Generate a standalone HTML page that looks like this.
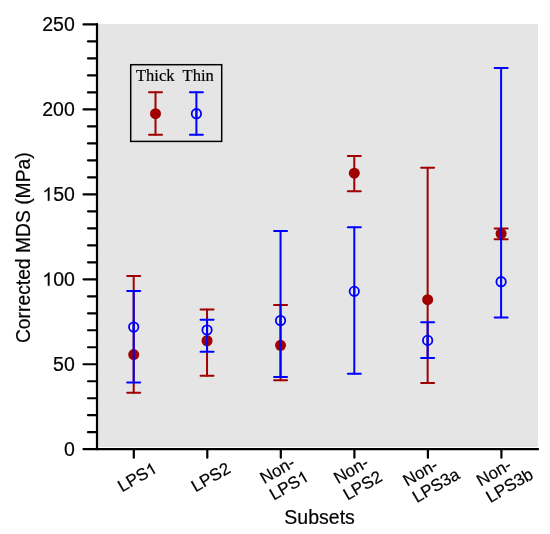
<!DOCTYPE html>
<html><head><meta charset="utf-8"><style>
html,body{margin:0;padding:0;background:#fff;}
svg{display:block;will-change:transform;}
.ax{stroke:#000;stroke-width:2.2;stroke-linecap:round;}
.eb{stroke-width:2;stroke-linecap:round;}
text{font-family:"Liberation Sans",sans-serif;fill:#000;stroke:#000;stroke-width:0.2px;}
.tl{font-size:19.5px;}
.tt{font-size:19.5px;}
.xl{font-size:17px;}
.h{fill-opacity:0;stroke-opacity:0;}
.one{fill:#000;stroke:#000;stroke-width:0.2px;vector-effect:non-scaling-stroke;}
.lg{font-family:"Liberation Serif",serif;font-size:16.5px;}
</style></head><body>
<svg width="550" height="534" viewBox="0 0 550 534">
<rect x="98" y="24" width="440" height="423" fill="#e5e5e5"/>
<line x1="83.5" y1="449.20" x2="97" y2="449.20" class="ax"/>
<line x1="88" y1="432.21" x2="97" y2="432.21" class="ax"/>
<line x1="88" y1="415.22" x2="97" y2="415.22" class="ax"/>
<line x1="88" y1="398.23" x2="97" y2="398.23" class="ax"/>
<line x1="88" y1="381.24" x2="97" y2="381.24" class="ax"/>
<line x1="83.5" y1="364.25" x2="97" y2="364.25" class="ax"/>
<line x1="88" y1="347.26" x2="97" y2="347.26" class="ax"/>
<line x1="88" y1="330.27" x2="97" y2="330.27" class="ax"/>
<line x1="88" y1="313.28" x2="97" y2="313.28" class="ax"/>
<line x1="88" y1="296.29" x2="97" y2="296.29" class="ax"/>
<line x1="83.5" y1="279.30" x2="97" y2="279.30" class="ax"/>
<line x1="88" y1="262.31" x2="97" y2="262.31" class="ax"/>
<line x1="88" y1="245.32" x2="97" y2="245.32" class="ax"/>
<line x1="88" y1="228.33" x2="97" y2="228.33" class="ax"/>
<line x1="88" y1="211.34" x2="97" y2="211.34" class="ax"/>
<line x1="83.5" y1="194.35" x2="97" y2="194.35" class="ax"/>
<line x1="88" y1="177.36" x2="97" y2="177.36" class="ax"/>
<line x1="88" y1="160.37" x2="97" y2="160.37" class="ax"/>
<line x1="88" y1="143.38" x2="97" y2="143.38" class="ax"/>
<line x1="88" y1="126.39" x2="97" y2="126.39" class="ax"/>
<line x1="83.5" y1="109.40" x2="97" y2="109.40" class="ax"/>
<line x1="88" y1="92.41" x2="97" y2="92.41" class="ax"/>
<line x1="88" y1="75.42" x2="97" y2="75.42" class="ax"/>
<line x1="88" y1="58.43" x2="97" y2="58.43" class="ax"/>
<line x1="88" y1="41.44" x2="97" y2="41.44" class="ax"/>
<line x1="83.5" y1="24.45" x2="97" y2="24.45" class="ax"/>
<text x="63.96" y="455.70" class="tl">0</text>
<text x="53.11" y="370.75" class="tl">50</text>
<text x="42.27" y="285.80" class="tl"><tspan class="h">1</tspan>00</text>
<path transform="translate(42.27,285.80) scale(0.00952,-0.00952)" d="M763,0 L583,0 L583,1102 Q518,1042 412,982 Q307,921 223,893 L223,1060 Q374,1130 488,1230 Q602,1330 650,1409 L763,1409 Z" class="one"/>
<text x="42.27" y="200.85" class="tl"><tspan class="h">1</tspan>50</text>
<path transform="translate(42.27,200.85) scale(0.00952,-0.00952)" d="M763,0 L583,0 L583,1102 Q518,1042 412,982 Q307,921 223,893 L223,1060 Q374,1130 488,1230 Q602,1330 650,1409 L763,1409 Z" class="one"/>
<text x="42.27" y="115.90" class="tl">200</text>
<text x="42.27" y="30.95" class="tl">250</text>
<line x1="97" y1="24" x2="97" y2="449.2" class="ax"/>
<line x1="97" y1="449.2" x2="538" y2="449.2" class="ax"/>
<line x1="133.8" y1="449.2" x2="133.8" y2="457.7" class="ax"/>
<line x1="207.3" y1="449.2" x2="207.3" y2="457.7" class="ax"/>
<line x1="280.8" y1="449.2" x2="280.8" y2="457.7" class="ax"/>
<line x1="354.4" y1="449.2" x2="354.4" y2="457.7" class="ax"/>
<line x1="427.9" y1="449.2" x2="427.9" y2="457.7" class="ax"/>
<line x1="501.4" y1="449.2" x2="501.4" y2="457.7" class="ax"/>
<g transform="translate(137.10,477.10) rotate(-30)"><text class="xl"><tspan x="-20.79" y="5.89">LPS<tspan class="h">1</tspan></tspan></text><path transform="translate(11.34,5.89) scale(0.00830,-0.00830)" d="M763,0 L583,0 L583,1102 Q518,1042 412,982 Q307,921 223,893 L223,1060 Q374,1130 488,1230 Q602,1330 650,1409 L763,1409 Z" class="one"/></g>
<g transform="translate(210.60,477.10) rotate(-30)"><text class="xl"><tspan x="-20.79" y="5.89">LPS2</tspan></text></g>
<g transform="translate(284.10,477.10) rotate(-30)"><text class="xl"><tspan x="-20.79" y="-3.61">Non-</tspan><tspan x="-20.79" y="15.39">LPS<tspan class="h">1</tspan></tspan></text><path transform="translate(11.34,15.39) scale(0.00830,-0.00830)" d="M763,0 L583,0 L583,1102 Q518,1042 412,982 Q307,921 223,893 L223,1060 Q374,1130 488,1230 Q602,1330 650,1409 L763,1409 Z" class="one"/></g>
<g transform="translate(357.70,477.10) rotate(-30)"><text class="xl"><tspan x="-20.79" y="-3.61">Non-</tspan><tspan x="-20.79" y="15.39">LPS2</tspan></text></g>
<g transform="translate(431.20,477.10) rotate(-30)"><text class="xl"><tspan x="-25.52" y="-3.61">Non-</tspan><tspan x="-25.52" y="15.39">LPS3a</tspan></text></g>
<g transform="translate(504.70,477.10) rotate(-30)"><text class="xl"><tspan x="-25.52" y="-3.61">Non-</tspan><tspan x="-25.52" y="15.39">LPS3b</tspan></text></g>
<text transform="translate(30.3,247.7) rotate(-90)" text-anchor="middle" class="tt" style="font-size:19.3px">Corrected MDS (MPa)</text>
<text x="319.6" y="524" text-anchor="middle" class="tt">Subsets</text>
<line x1="133.7" y1="276.1" x2="133.7" y2="392.7" stroke="#a00000" class="eb"/>
<line x1="127.19999999999999" y1="276.1" x2="140.2" y2="276.1" stroke="#a00000" class="eb"/>
<line x1="127.19999999999999" y1="392.7" x2="140.2" y2="392.7" stroke="#a00000" class="eb"/>
<circle cx="133.7" cy="354.6" r="5.5" fill="#a00000"/>
<line x1="207.05" y1="309.5" x2="207.05" y2="375.8" stroke="#a00000" class="eb"/>
<line x1="200.55" y1="309.5" x2="213.55" y2="309.5" stroke="#a00000" class="eb"/>
<line x1="200.55" y1="375.8" x2="213.55" y2="375.8" stroke="#a00000" class="eb"/>
<circle cx="207.05" cy="340.75" r="5.5" fill="#a00000"/>
<line x1="280.55" y1="305.1" x2="280.55" y2="380.2" stroke="#a00000" class="eb"/>
<line x1="274.05" y1="305.1" x2="287.05" y2="305.1" stroke="#a00000" class="eb"/>
<line x1="274.05" y1="380.2" x2="287.05" y2="380.2" stroke="#a00000" class="eb"/>
<circle cx="280.55" cy="345.35" r="5.5" fill="#a00000"/>
<line x1="354.3" y1="155.9" x2="354.3" y2="191.25" stroke="#a00000" class="eb"/>
<line x1="347.8" y1="155.9" x2="360.8" y2="155.9" stroke="#a00000" class="eb"/>
<line x1="347.8" y1="191.25" x2="360.8" y2="191.25" stroke="#a00000" class="eb"/>
<circle cx="354.3" cy="173.2" r="5.5" fill="#a00000"/>
<line x1="427.65" y1="167.7" x2="427.65" y2="383.0" stroke="#a00000" class="eb"/>
<line x1="421.15" y1="167.7" x2="434.15" y2="167.7" stroke="#a00000" class="eb"/>
<line x1="421.15" y1="383.0" x2="434.15" y2="383.0" stroke="#a00000" class="eb"/>
<circle cx="427.65" cy="299.7" r="5.5" fill="#a00000"/>
<line x1="501.1" y1="228.4" x2="501.1" y2="239.2" stroke="#a00000" class="eb"/>
<line x1="494.6" y1="228.4" x2="507.6" y2="228.4" stroke="#a00000" class="eb"/>
<line x1="494.6" y1="239.2" x2="507.6" y2="239.2" stroke="#a00000" class="eb"/>
<circle cx="501.1" cy="233.6" r="5.5" fill="#a00000"/>
<line x1="133.7" y1="291.1" x2="133.7" y2="382.4" stroke="#0000ff" class="eb"/>
<line x1="127.19999999999999" y1="291.1" x2="140.2" y2="291.1" stroke="#0000ff" class="eb"/>
<line x1="127.19999999999999" y1="382.4" x2="140.2" y2="382.4" stroke="#0000ff" class="eb"/>
<circle cx="133.7" cy="327.0" r="4.7" fill="none" stroke="#0000ff" stroke-width="1.8"/>
<line x1="133.7" y1="322.0" x2="133.7" y2="332.0" stroke="#0000ff" class="eb"/>
<line x1="207.05" y1="319.7" x2="207.05" y2="351.7" stroke="#0000ff" class="eb"/>
<line x1="200.55" y1="319.7" x2="213.55" y2="319.7" stroke="#0000ff" class="eb"/>
<line x1="200.55" y1="351.7" x2="213.55" y2="351.7" stroke="#0000ff" class="eb"/>
<circle cx="207.05" cy="330.05" r="4.7" fill="none" stroke="#0000ff" stroke-width="1.8"/>
<line x1="207.05" y1="325.05" x2="207.05" y2="335.05" stroke="#0000ff" class="eb"/>
<line x1="280.55" y1="231.05" x2="280.55" y2="377.1" stroke="#0000ff" class="eb"/>
<line x1="274.05" y1="231.05" x2="287.05" y2="231.05" stroke="#0000ff" class="eb"/>
<line x1="274.05" y1="377.1" x2="287.05" y2="377.1" stroke="#0000ff" class="eb"/>
<circle cx="280.55" cy="320.55" r="4.7" fill="none" stroke="#0000ff" stroke-width="1.8"/>
<line x1="280.55" y1="315.55" x2="280.55" y2="325.55" stroke="#0000ff" class="eb"/>
<line x1="354.3" y1="227.2" x2="354.3" y2="373.8" stroke="#0000ff" class="eb"/>
<line x1="347.8" y1="227.2" x2="360.8" y2="227.2" stroke="#0000ff" class="eb"/>
<line x1="347.8" y1="373.8" x2="360.8" y2="373.8" stroke="#0000ff" class="eb"/>
<circle cx="354.3" cy="291.35" r="4.7" fill="none" stroke="#0000ff" stroke-width="1.8"/>
<line x1="354.3" y1="286.35" x2="354.3" y2="296.35" stroke="#0000ff" class="eb"/>
<line x1="427.65" y1="322.15" x2="427.65" y2="357.9" stroke="#0000ff" class="eb"/>
<line x1="421.15" y1="322.15" x2="434.15" y2="322.15" stroke="#0000ff" class="eb"/>
<line x1="421.15" y1="357.9" x2="434.15" y2="357.9" stroke="#0000ff" class="eb"/>
<circle cx="427.65" cy="340.4" r="4.7" fill="none" stroke="#0000ff" stroke-width="1.8"/>
<line x1="427.65" y1="335.4" x2="427.65" y2="345.4" stroke="#0000ff" class="eb"/>
<line x1="501.1" y1="67.9" x2="501.1" y2="317.6" stroke="#0000ff" class="eb"/>
<line x1="494.6" y1="67.9" x2="507.6" y2="67.9" stroke="#0000ff" class="eb"/>
<line x1="494.6" y1="317.6" x2="507.6" y2="317.6" stroke="#0000ff" class="eb"/>
<circle cx="501.1" cy="281.7" r="4.7" fill="none" stroke="#0000ff" stroke-width="1.8"/>
<line x1="501.1" y1="276.7" x2="501.1" y2="286.7" stroke="#0000ff" class="eb"/>
<rect x="130.7" y="64.7" width="91" height="76.7" fill="none" stroke="#000" stroke-width="1.5"/>
<text x="136" y="81.1" class="lg">Thick</text>
<text x="182.6" y="81.1" class="lg">Thin</text>
<line x1="155.5" y1="92.3" x2="155.5" y2="134.75" stroke="#a00000" class="eb"/>
<line x1="149.0" y1="92.3" x2="162.0" y2="92.3" stroke="#a00000" class="eb"/>
<line x1="149.0" y1="134.75" x2="162.0" y2="134.75" stroke="#a00000" class="eb"/>
<circle cx="155.5" cy="113.7" r="5.5" fill="#a00000"/>
<line x1="196.4" y1="92.3" x2="196.4" y2="134.75" stroke="#0000ff" class="eb"/>
<line x1="189.9" y1="92.3" x2="202.9" y2="92.3" stroke="#0000ff" class="eb"/>
<line x1="189.9" y1="134.75" x2="202.9" y2="134.75" stroke="#0000ff" class="eb"/>
<circle cx="196.4" cy="113.7" r="4.7" fill="none" stroke="#0000ff" stroke-width="1.8"/>
<line x1="196.4" y1="108.7" x2="196.4" y2="118.7" stroke="#0000ff" class="eb"/>
</svg>
</body></html>
